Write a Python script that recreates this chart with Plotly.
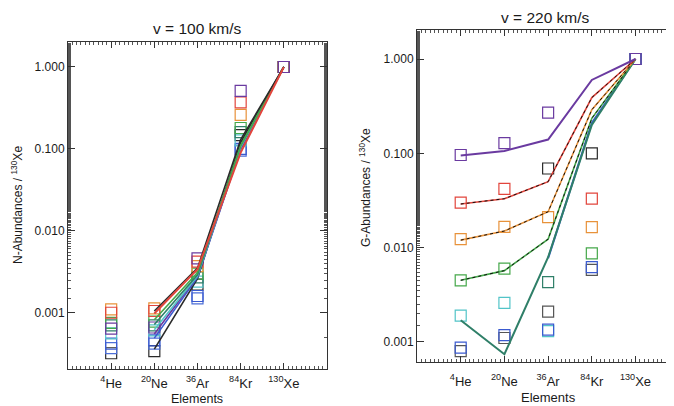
import plotly.graph_objects as go

# The page body has an 8px margin, so the figure is sized to fit inside the window.
OFF = 8
W, H = 674 - OFF, 406 - OFF

def px(x):
    return (x - OFF) / W

def py(y):
    return 1 - (y - OFF) / H

elements = ["<sup>4</sup>He", "<sup>20</sup>Ne", "<sup>36</sup>Ar", "<sup>84</sup>Kr", "<sup>130</sup>Xe"]
xpos = [1, 2, 3, 4, 5]

C = {
    "purple": "#6a3aa0", "red": "#e2453c", "orange": "#e8923a", "green": "#45a84a",
    "teal": "#2f7f68", "cyan": "#52c4c8", "blue": "#3a5ad0", "blue2": "#4d6fd8",
    "black": "#2a2a2a", "gray": "#555555",
}

# ---- left panel (v = 100 km/s): squares per colour series (He, Ne, Ar, Kr, Xe)
left_sq_orange = [0.0011, 0.00113, 0.0037, 0.26, 1.0]
left_sq_red = [0.00100, 0.00105, 0.0042, 0.37, 1.0]
left_sq_purple = [0.00064, 0.00066, 0.0046, 0.51, 1.0]
left_sq_green = [0.00075, 0.00078, 0.0030, 0.18, 1.0]
left_sq_teal = [0.00070, 0.00070, 0.0027, 0.16, 1.0]
left_sq_cyan = [0.00056, 0.00061, 0.0024, 0.127, 1.0]
left_sq_blue = [0.00042, 0.00046, 0.0016, 0.10, 1.0]
left_sq_blue2 = [0.00037, 0.00042, 0.0015, 0.095, 1.0]
left_sq_black = [0.00032, 0.00034, 0.0022, 0.147, 1.0]

# left lines (He absent)
left_ln_black1 = [None, 0.00105, 0.0035, 0.13, 1.0]
left_ln_red = [None, 0.00098, 0.0034, 0.09, 1.0]
left_ln_green = [None, 0.00082, 0.0031, 0.11, 1.0]
left_ln_teal = [None, 0.00072, 0.0029, 0.11, 1.0]
left_ln_cyan = [None, 0.00062, 0.0028, 0.105, 1.0]
left_ln_purple = [None, 0.00055, 0.0028, 0.10, 1.0]
left_ln_blue = [None, 0.00049, 0.0027, 0.10, 1.0]
left_ln_black2 = [None, 0.00036, 0.0026, 0.12, 1.0]

# ---- right panel (v = 220 km/s)
right_sq_black = [0.00080, 0.00110, 0.0021, 0.0058, 1.0]
right_sq_dark = [None, None, 0.069, 0.100, 1.0]
right_sq_dkgreen = [None, None, 0.0043, None, 1.0]
right_sq_red = [0.030, 0.042, None, 0.033, 1.0]
right_sq_orange = [0.0123, 0.0166, 0.021, 0.0165, 1.0]
right_sq_green = [0.0045, 0.0060, None, 0.0087, 1.0]
right_sq_cyan = [0.0019, 0.0026, 0.0013, None, 1.0]
right_sq_blue = [0.00087, 0.00118, 0.00135, 0.0062, 1.0]
right_sq_purple = [0.096, 0.128, 0.27, None, 1.0]

right_ln_purple = [0.095, 0.106, 0.14, 0.60, 1.0]
right_ln_red = [0.029, 0.033, 0.050, 0.39, 1.0]
right_ln_orange = [0.012, 0.015, 0.024, 0.29, 1.0]
right_ln_green = [0.0045, 0.0057, 0.0123, 0.235, 1.0]
right_ln_teal = [0.0017, 0.00074, 0.0079, 0.20, 1.0]
right_ln_blue = [None, None, 0.0077, 0.21, 1.0]

ytickvals = [0.001, 0.01, 0.1, 1.0]
yticktext = ["0.001", "0.010", "0.100", "1.000"]

fig = go.Figure()

def sq(vals, color, xa, ya):
    fig.add_trace(go.Scatter(x=xpos, y=vals, mode="markers", xaxis=xa, yaxis=ya,
                             marker=dict(symbol="square-open", size=11, color=color,
                                         line=dict(width=1.2, color=color)),
                             showlegend=False, hoverinfo="skip"))

def ln(vals, color, xa, ya, dashed_black=False, width=1.6):
    fig.add_trace(go.Scatter(x=xpos, y=vals, mode="lines", xaxis=xa, yaxis=ya,
                             line=dict(color=color, width=width), connectgaps=False,
                             showlegend=False, hoverinfo="skip"))
    if dashed_black:
        fig.add_trace(go.Scatter(x=xpos, y=vals, mode="lines", xaxis=xa, yaxis=ya,
                                 line=dict(color="#111111", width=1, dash="3px,3px"),
                                 showlegend=False, hoverinfo="skip"))

# left squares
for vals, c in [(left_sq_black, C["black"]), (left_sq_blue2, C["blue2"]), (left_sq_blue, C["blue"]),
                (left_sq_cyan, C["cyan"]), (left_sq_teal, C["teal"]), (left_sq_green, C["green"]),
                (left_sq_orange, C["orange"]), (left_sq_red, C["red"]), (left_sq_purple, C["purple"])]:
    sq(vals, c, "x", "y")
# left lines
ln(left_ln_black2, C["black"], "x", "y")
ln(left_ln_blue, C["blue"], "x", "y")
ln(left_ln_purple, C["purple"], "x", "y")
ln(left_ln_cyan, C["cyan"], "x", "y")
ln(left_ln_teal, C["teal"], "x", "y")
ln(left_ln_green, C["green"], "x", "y")
ln(left_ln_black1, C["black"], "x", "y")
ln(left_ln_red, C["red"], "x", "y", width=2)

# right squares
for vals, c in [(right_sq_black, C["gray"]), (right_sq_dark, C["black"]), (right_sq_dkgreen, C["teal"]),
                (right_sq_red, C["red"]), (right_sq_orange, C["orange"]), (right_sq_green, C["green"]),
                (right_sq_cyan, C["cyan"]), (right_sq_blue, C["blue"]), (right_sq_purple, C["purple"])]:
    sq(vals, c, "x2", "y2")
# right lines
ln(right_ln_blue, C["blue"], "x2", "y2", width=2)
ln(right_ln_teal, C["teal"], "x2", "y2", width=2)
ln(right_ln_green, C["green"], "x2", "y2", dashed_black=True)
ln(right_ln_orange, C["orange"], "x2", "y2", dashed_black=True)
ln(right_ln_red, C["red"], "x2", "y2", dashed_black=True)
ln(right_ln_purple, C["purple"], "x2", "y2", width=2)

font = dict(family="Liberation Sans, Arial, sans-serif", size=12, color="#1a1a1a")
xfont = dict(font, size=13)

def xaxis(domain, rng, standoff):
    return dict(domain=domain, range=rng, tickmode="array", tickvals=xpos, ticktext=elements,
                ticks="inside", ticklen=6, tickcolor="#333", showline=True, linecolor="#333",
                linewidth=1, mirror="allticks", showgrid=False, zeroline=False,
                tickfont=xfont, fixedrange=True, ticklabelstandoff=standoff,
                minor=dict(ticks="inside", ticklen=3, dtick=0.1, tick0=0, tickcolor="#555", showgrid=False))

def yaxis(domain, rng, anchor):
    return dict(domain=domain, type="log", range=rng, tickmode="array", tickvals=ytickvals,
                ticktext=yticktext, ticks="inside", ticklen=7, tickcolor="#333", showline=True,
                linecolor="#333", linewidth=1, mirror="allticks", showgrid=False, zeroline=False,
                tickfont=font, anchor=anchor,
                minor=dict(ticks="inside", ticklen=3, tickcolor="#555", showgrid=False))

fig.update_layout(
    width=W, height=H, margin=dict(l=0, r=0, t=0, b=0),
    paper_bgcolor="white", plot_bgcolor="white", font=font,
    xaxis=dict(xaxis([px(68), px(327)], [0, 6], 2), anchor="y"),
    yaxis=yaxis([py(369), py(42)], [-3.687, 0.305], "x"),
    xaxis2=dict(xaxis([px(417), 1.0], [0, 5.88], 7), anchor="y2"),
    yaxis2=yaxis([py(362), py(30)], [-3.213, 0.3075], "x2"),
    annotations=[
        dict(text="v = 100 km/s", x=px(197), y=py(28), xref="paper", yref="paper",
             showarrow=False, font=dict(font, size=15.5), xanchor="center", yanchor="middle"),
        dict(text="v = 220 km/s", x=px(545), y=py(17), xref="paper", yref="paper",
             showarrow=False, font=dict(font, size=15.5), xanchor="center", yanchor="middle"),
        dict(text="N-Abundances / <sup>130</sup>Xe", x=px(17), y=py(205), xref="paper", yref="paper",
             showarrow=False, textangle=-90, font=font, xanchor="center", yanchor="middle"),
        dict(text="G-Abundances / <sup>130</sup>Xe", x=px(365), y=py(188), xref="paper", yref="paper",
             showarrow=False, textangle=-90, font=font, xanchor="center", yanchor="middle"),
        dict(text="Elements", x=px(197), y=py(399), xref="paper", yref="paper",
             showarrow=False, font=dict(font, size=12.5), xanchor="center", yanchor="middle"),
        dict(text="Elements", x=px(548), y=py(397), xref="paper", yref="paper",
             showarrow=False, font=dict(font, size=13), xanchor="center", yanchor="middle"),
    ],
)

fig.write_html("out.html")
